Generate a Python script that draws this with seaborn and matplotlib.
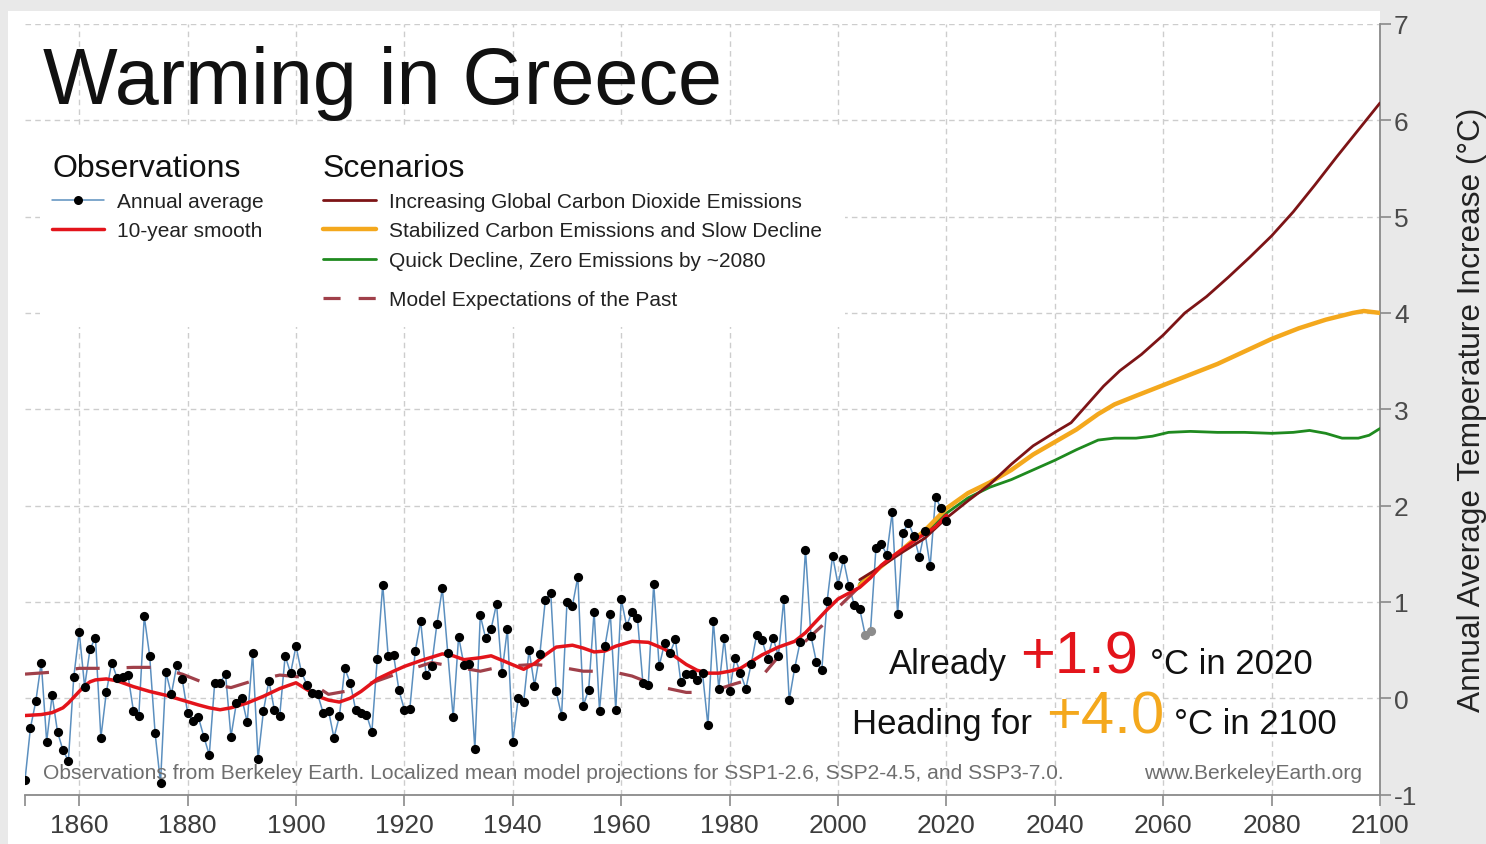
import matplotlib
matplotlib.use("Agg")
import matplotlib.pyplot as plt
import seaborn as sns
from matplotlib.lines import Line2D
from matplotlib.patches import Rectangle

# ---------------------------------------------------------------- data
annual_years = list(range(1850, 2021))
annual_temp = [
    -0.85, -0.31, -0.03, 0.37, -0.45, 0.03, -0.35, -0.54, -0.65, 0.22,   # 1850s
    0.69, 0.12, 0.51, 0.63, -0.41, 0.06, 0.37, 0.21, 0.22, 0.24,         # 1860s
    -0.13, -0.18, 0.85, 0.44, -0.36, -0.88, 0.27, 0.04, 0.34, 0.20,      # 1870s
    -0.15, -0.24, -0.20, -0.40, -0.59, 0.16, 0.16, 0.25, -0.40, -0.05,   # 1880s
    0.00, -0.25, 0.47, -0.63, -0.13, 0.18, -0.12, -0.18, 0.44, 0.26,     # 1890s
    0.54, 0.27, 0.14, 0.05, 0.04, -0.15, -0.13, -0.41, -0.19, 0.31,      # 1900s
    0.16, -0.12, -0.15, -0.17, -0.35, 0.41, 1.18, 0.44, 0.45, 0.08,      # 1910s
    -0.12, -0.11, 0.49, 0.80, 0.24, 0.33, 0.77, 1.14, 0.47, -0.20,       # 1920s
    0.64, 0.34, 0.36, -0.53, 0.86, 0.62, 0.72, 0.98, 0.26, 0.72,         # 1930s
    -0.45, 0.00, -0.04, 0.50, 0.13, 0.46, 1.02, 1.09, 0.07, -0.18,       # 1940s
    1.00, 0.96, 1.26, -0.08, 0.09, 0.90, -0.13, 0.54, 0.87, -0.12,       # 1950s
    1.03, 0.75, 0.90, 0.83, 0.16, 0.14, 1.19, 0.33, 0.57, 0.47,          # 1960s
    0.61, 0.17, 0.25, 0.25, 0.19, 0.26, -0.28, 0.80, 0.10, 0.62,         # 1970s
    0.07, 0.42, 0.26, 0.10, 0.36, 0.66, 0.60, 0.41, 0.63, 0.44,          # 1980s
    1.03, -0.02, 0.31, 0.58, 1.54, 0.65, 0.38, 0.29, 1.01, 1.48,         # 1990s
    1.18, 1.44, 1.17, 0.97, 0.93, 0.66, 0.70, 1.56, 1.60, 1.49,          # 2000s
    1.93, 0.87, 1.72, 1.82, 1.68, 1.47, 1.74, 1.37, 2.09, 1.97,          # 2010s
    1.84,                                                                # 2020
]
incomplete_years = [2005, 2006]

smooth_years = [1850, 1853, 1855, 1857, 1858, 1859, 1860, 1861, 1862, 1863, 1865,
                1867, 1870, 1873, 1876, 1879, 1882, 1884, 1886, 1888, 1891, 1894,
                1897, 1900, 1902, 1904, 1906, 1908, 1910, 1912, 1915, 1918, 1920,
                1923, 1927, 1929, 1931, 1934, 1936, 1939, 1942, 1944, 1946, 1948,
                1951, 1953, 1955, 1957, 1959, 1962, 1965, 1968, 1970, 1972, 1974,
                1976, 1978, 1980, 1982, 1984, 1986, 1989, 1992, 1994, 1996, 1998,
                2000, 2002, 2004, 2006, 2008, 2010, 2012, 2015, 2018, 2020]
smooth_temp = [-0.18, -0.17, -0.15, -0.10, -0.05, 0.01, 0.07, 0.13, 0.17, 0.19, 0.20,
               0.18, 0.12, 0.07, 0.03, -0.02, -0.07, -0.10, -0.12, -0.10, -0.05, 0.02,
               0.10, 0.16, 0.09, 0.02, -0.02, -0.04, 0.00, 0.07, 0.20, 0.28, 0.33,
               0.39, 0.46, 0.44, 0.40, 0.42, 0.44, 0.37, 0.30, 0.36, 0.45, 0.53,
               0.55, 0.52, 0.48, 0.49, 0.54, 0.59, 0.58, 0.51, 0.43, 0.35, 0.29,
               0.26, 0.26, 0.28, 0.31, 0.38, 0.45, 0.53, 0.59, 0.68, 0.80, 0.92,
               1.03, 1.09, 1.15, 1.25, 1.38, 1.47, 1.55, 1.67, 1.78, 1.90]

model_years = [1850, 1855, 1860, 1865, 1870, 1874, 1879, 1883, 1888, 1892, 1897, 1901,
               1906, 1910, 1915, 1920, 1925, 1929, 1934, 1938, 1944, 1948, 1953, 1958,
               1962, 1967, 1972, 1976, 1981, 1986, 1989, 1993, 1997, 2000, 2004, 2007]
model_temp = [0.25, 0.27, 0.31, 0.31, 0.32, 0.32, 0.25, 0.16, 0.11, 0.18, 0.24, 0.22,
              0.04, 0.08, 0.18, 0.28, 0.37, 0.33, 0.28, 0.33, 0.35, 0.33, 0.28, 0.28,
              0.23, 0.12, 0.06, 0.06, 0.15, 0.23, 0.43, 0.54, 0.75, 0.94, 1.16, 1.29]

ssp370_years = [2004, 2008, 2012, 2016, 2020, 2024, 2028, 2032, 2036, 2040, 2043, 2046,
                2049, 2052, 2056, 2060, 2064, 2068, 2072, 2076, 2080, 2084, 2088, 2092,
                2096, 2100]
ssp370_temp = [1.23, 1.37, 1.52, 1.66, 1.87, 2.05, 2.22, 2.43, 2.62, 2.76, 2.86, 3.05,
               3.24, 3.40, 3.57, 3.77, 4.00, 4.17, 4.37, 4.58, 4.80, 5.05, 5.33, 5.62,
               5.90, 6.18]

ssp245_years = [2004, 2008, 2012, 2016, 2020, 2024, 2028, 2032, 2036, 2040, 2044, 2048,
                2051, 2055, 2060, 2065, 2070, 2075, 2080, 2085, 2090, 2095, 2097, 2100]
ssp245_temp = [1.17, 1.37, 1.55, 1.74, 1.97, 2.13, 2.24, 2.37, 2.53, 2.66, 2.79, 2.95,
               3.05, 3.14, 3.25, 3.36, 3.47, 3.60, 3.73, 3.84, 3.93, 4.00, 4.02, 4.00]

ssp126_years = [2004, 2008, 2012, 2016, 2020, 2024, 2028, 2032, 2036, 2040, 2044, 2048,
                2051, 2055, 2058, 2061, 2065, 2070, 2075, 2080, 2084, 2087, 2090, 2093,
                2096, 2098, 2100]
ssp126_temp = [1.19, 1.37, 1.54, 1.72, 1.92, 2.08, 2.19, 2.27, 2.37, 2.47, 2.58, 2.68,
               2.70, 2.70, 2.72, 2.76, 2.77, 2.76, 2.76, 2.75, 2.76, 2.78, 2.75, 2.70,
               2.70, 2.73, 2.80]

x_ticks = list(range(1860, 2101, 20))
y_ticks = list(range(-1, 8))

# ---------------------------------------------------------------- style
sns.set_theme(style="white")
plt.rcParams["font.family"] = ["Liberation Sans", "DejaVu Sans"]
plt.rcParams["lines.scale_dashes"] = False
plt.rcParams["axes.unicode_minus"] = False

C_BLUE = "#5b8fbf"
C_RED = "#e3141b"
C_DARKRED = "#7d1416"
C_ORANGE = "#f4a81d"
C_GREEN = "#1f8a1f"
C_MODEL = "#a0404a"
C_FRAME = "#e9e9e9"
C_AXIS = "#8a8a8a"

W_PX, H_PX = 1486, 845
AX_L, AX_R, AX_T, AX_B = 25, 1380, 25, 795.5

fig = plt.figure(figsize=(W_PX / 100, H_PX / 100), dpi=100, facecolor="white")
ax = fig.add_axes([AX_L / W_PX, 1 - AX_B / H_PX,
                   (AX_R - AX_L) / W_PX, (AX_B - AX_T) / H_PX])
ax.set_facecolor("white")

# light grey frame around the white panel
for (x0, y0, w, h) in [(0, 0, 8 / W_PX, 1),
                       (0, 1 - 12 / H_PX, 1, 12 / H_PX),
                       (AX_R / W_PX, 0, 1 - AX_R / W_PX, 1)]:
    fig.patches.append(Rectangle((x0, y0), w, h, transform=fig.transFigure,
                                 facecolor=C_FRAME, edgecolor="none", zorder=-5))


def apos(px, py):
    """Pixel position in the figure -> axes fraction."""
    return (px - AX_L) / (AX_R - AX_L), (AX_B - py) / (AX_B - AX_T)


# ---------------------------------------------------------------- marks
complete_x = [y for y in annual_years if y not in incomplete_years]
complete_y = [v for y, v in zip(annual_years, annual_temp) if y not in incomplete_years]
partial_x = [y for y in annual_years if y in incomplete_years]
partial_y = [v for y, v in zip(annual_years, annual_temp) if y in incomplete_years]

sns.lineplot(x=annual_years, y=annual_temp, ax=ax, color=C_BLUE, linewidth=1.1, zorder=3)

sns.lineplot(x=model_years, y=model_temp, ax=ax, color=C_MODEL, linewidth=2.3, zorder=4)
ax.lines[-1].set_dashes([17.3, 19.4])

sns.lineplot(x=ssp126_years, y=ssp126_temp, ax=ax, color=C_GREEN, linewidth=2.0, zorder=5)
sns.lineplot(x=ssp245_years, y=ssp245_temp, ax=ax, color=C_ORANGE, linewidth=3.2, zorder=5)
sns.lineplot(x=ssp370_years, y=ssp370_temp, ax=ax, color=C_DARKRED, linewidth=2.0, zorder=5)

sns.lineplot(x=smooth_years, y=smooth_temp, ax=ax, color=C_RED, linewidth=2.5, zorder=6)

sns.scatterplot(x=complete_x, y=complete_y, ax=ax, color="black", s=44,
                linewidth=0, zorder=8)
sns.scatterplot(x=partial_x, y=partial_y, ax=ax, color="#8c8c8c", s=44,
                linewidth=0, zorder=8)

# ---------------------------------------------------------------- axes
ax.set_xlim(1850, 2100)
ax.set_ylim(-1, 7)
ax.set_xticks(x_ticks)
ax.set_xticks([1850], minor=True)
ax.set_yticks(y_ticks)
ax.set_xlabel("")
ax.grid(True, which="major", color="#cdcdcd", linestyle=(0, (4, 3)), linewidth=1.0)
ax.set_axisbelow(True)

for side in ("left", "top"):
    ax.spines[side].set_visible(False)
for side in ("right", "bottom"):
    ax.spines[side].set_visible(True)
    ax.spines[side].set_color(C_AXIS)
    ax.spines[side].set_linewidth(1.3)

ax.yaxis.tick_right()
ax.yaxis.set_label_position("right")
ax.tick_params(axis="y", which="major", direction="out", length=8, width=1.2,
               color=C_AXIS, labelsize=19, labelcolor="#4a4a4a", pad=2,
               right=True, left=False)
ax.tick_params(axis="x", which="both", direction="out", length=8, width=1.2,
               color=C_AXIS, labelsize=19, labelcolor="#3c3c3c", pad=5,
               bottom=True)
ax.set_ylabel("Annual Average Temperature Increase (°C)", fontsize=22.8, color="#222222")
ax.yaxis.set_label_coords(apos(1457, 0)[0], 0.5)

# ---------------------------------------------------------------- texts
ax.text(*apos(43, 104), "Warming in Greece", transform=ax.transAxes,
        fontsize=57, color="#111111", ha="left", va="baseline", zorder=10)

# white panel behind the key
ax.add_patch(Rectangle(apos(40, 328), apos(845, 0)[0] - apos(40, 0)[0],
                       apos(0, 128)[1] - apos(0, 328)[1], transform=ax.transAxes,
                       facecolor="white", edgecolor="none", zorder=2))


def key_line(x0, x1, y, **kw):
    (a0, b), (a1, _) = apos(x0, y), apos(x1, y)
    ax.add_line(Line2D([a0, a1], [b, b], transform=ax.transAxes, clip_on=False,
                       zorder=11, **kw))


def key_text(x, y, s, size=15, **kw):
    ax.text(*apos(x, y + 7), s, transform=ax.transAxes, fontsize=size,
            color="#222222", ha="left", va="baseline", zorder=11, **kw)


ax.text(*apos(52, 177), "Observations", transform=ax.transAxes, fontsize=23,
        color="#111111", ha="left", va="baseline", zorder=11)
key_line(52, 104, 201, color=C_BLUE, linewidth=1.1)
mx, my = apos(78, 201)
ax.add_line(Line2D([mx], [my], transform=ax.transAxes, marker="o", markersize=6.5,
                   markerfacecolor="black", markeredgewidth=0, linestyle="none",
                   zorder=12))
key_text(117, 201, "Annual average")
key_line(52, 104, 230, color=C_RED, linewidth=2.5)
key_text(117, 230, "10-year smooth")

ax.text(*apos(323, 177), "Scenarios", transform=ax.transAxes, fontsize=23,
        color="#111111", ha="left", va="baseline", zorder=11)
key_line(323, 376, 201, color=C_DARKRED, linewidth=2.0)
key_text(389, 201, "Increasing Global Carbon Dioxide Emissions")
key_line(323, 376, 230, color=C_ORANGE, linewidth=3.2)
key_text(389, 230, "Stabilized Carbon Emissions and Slow Decline")
key_line(323, 376, 260, color=C_GREEN, linewidth=2.0)
key_text(389, 260, "Quick Decline, Zero Emissions by ~2080")
key_line(323, 376, 299, color=C_MODEL, linewidth=2.3, dashes=[12.3, 13.0])
key_text(389, 299, "Model Expectations of the Past")

# headline numbers, taken from the series they describe
now_val = f"+{smooth_temp[-1]:.1f}"
end_val = f"+{ssp245_temp[-1]:.1f}"
for px, s, size, col in [(889, "Already", 25, "#111111"),
                         (1020, now_val, 43, C_RED),
                         (1150, "°C in 2020", 25, "#111111")]:
    ax.text(*apos(px, 674), s, transform=ax.transAxes, fontsize=size, color=col,
            ha="left", va="baseline", zorder=11)
for px, s, size, col in [(852, "Heading for", 25, "#111111"),
                         (1046, end_val, 43, C_ORANGE),
                         (1174, "°C in 2100", 25, "#111111")]:
    ax.text(*apos(px, 734), s, transform=ax.transAxes, fontsize=size, color=col,
            ha="left", va="baseline", zorder=11)

ax.text(*apos(43, 779),
        "Observations from Berkeley Earth. Localized mean model projections for "
        "SSP1-2.6, SSP2-4.5, and SSP3-7.0.",
        transform=ax.transAxes, fontsize=15.1, color="#6e6e6e", ha="left",
        va="baseline", zorder=11)
ax.text(*apos(1362, 779), "www.BerkeleyEarth.org", transform=ax.transAxes,
        fontsize=15.1, color="#6e6e6e", ha="right", va="baseline", zorder=11)

fig.savefig("out.png", dpi=100, facecolor="white")
